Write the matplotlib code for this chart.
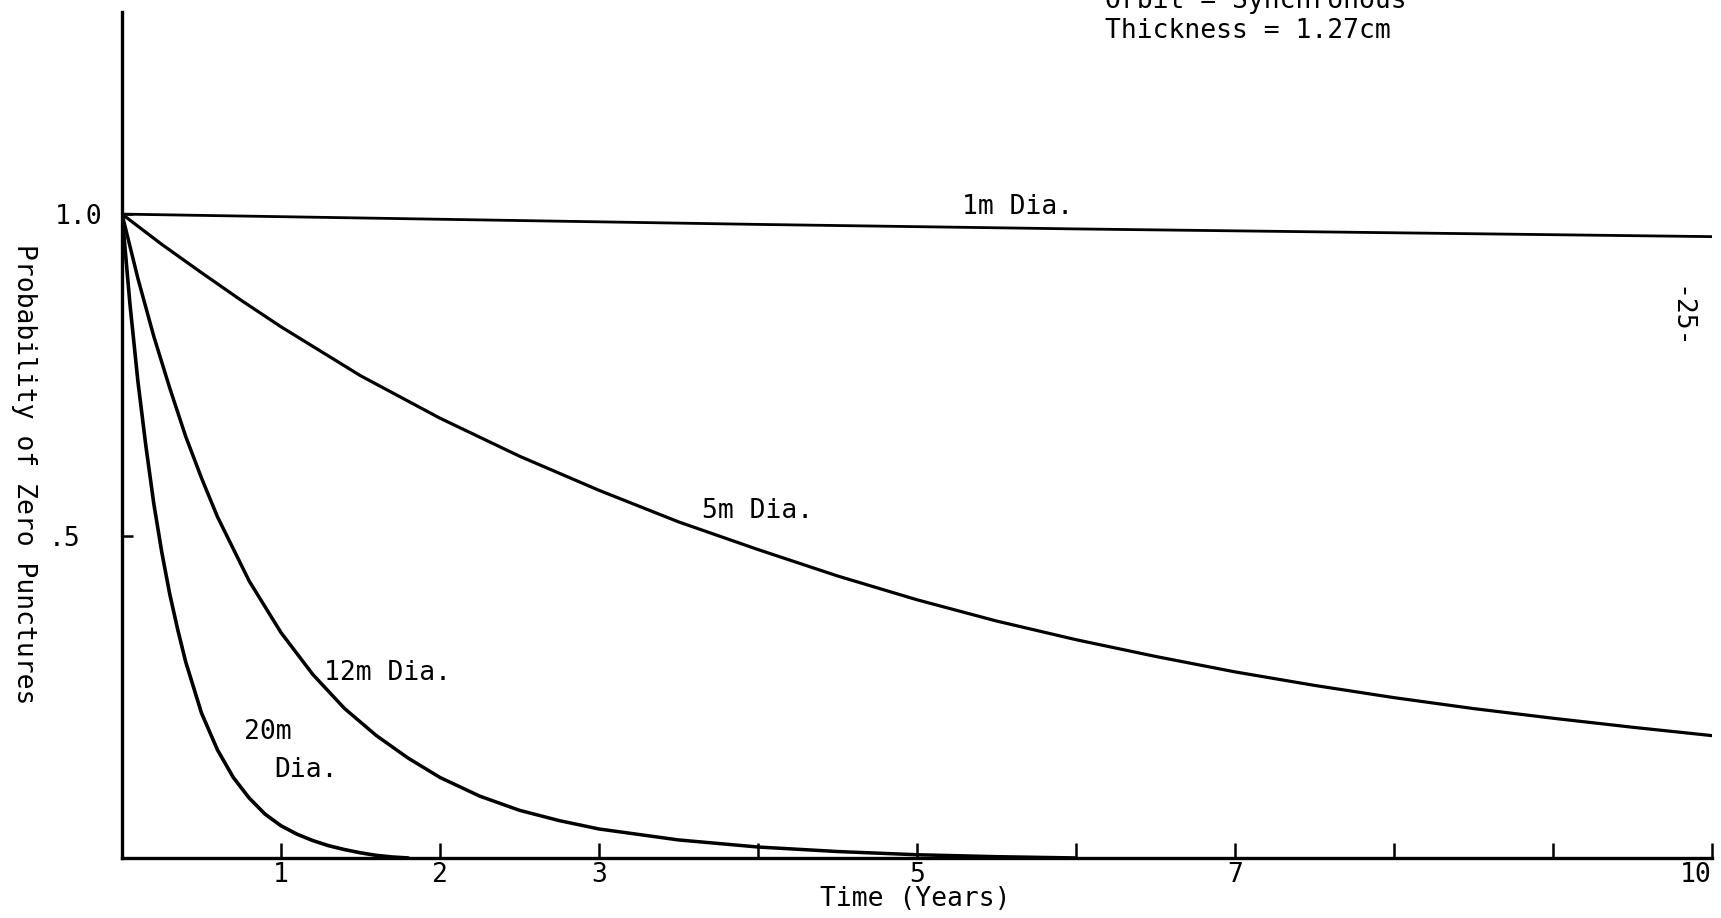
"""Probability of zero punctures vs. exposure time for several shield diameters."""

import matplotlib

matplotlib.use("Agg")
import matplotlib.pyplot as plt
from matplotlib.transforms import ScaledTranslation

# Exposure time (years) and probability of zero punctures, per diameter.
T_1M = [0, 2, 4, 6, 8, 10]
P_1M = [1.0, 0.992, 0.984, 0.977, 0.971, 0.965]

T_5M = [0, 0.25, 0.5, 0.75, 1, 1.5, 2, 2.5, 3, 3.5, 4, 4.5, 5, 5.5, 6,
        6.5, 7, 7.5, 8, 8.5, 9, 9.5, 10]
P_5M = [1.0, 0.953, 0.909, 0.866, 0.825, 0.749, 0.683, 0.624, 0.571, 0.522,
        0.479, 0.438, 0.401, 0.368, 0.339, 0.313, 0.289, 0.268, 0.249, 0.232,
        0.217, 0.203, 0.19]

T_12M = [0, 0.1, 0.2, 0.3, 0.4, 0.5, 0.6, 0.7, 0.8, 0.9, 1.0, 1.2, 1.4, 1.6,
         1.8, 2.0, 2.25, 2.5, 2.75, 3.0, 3.5, 4.0, 4.5, 5.0, 5.5, 6.0]
P_12M = [1.0, 0.90, 0.81, 0.73, 0.655, 0.59, 0.53, 0.48, 0.43, 0.39, 0.35,
         0.285, 0.232, 0.19, 0.155, 0.125, 0.096, 0.074, 0.058, 0.045, 0.028,
         0.017, 0.01, 0.005, 0.002, 0.0]

T_20M = [0, 0.05, 0.1, 0.15, 0.2, 0.25, 0.3, 0.35, 0.4, 0.5, 0.6, 0.7, 0.8,
         0.9, 1.0, 1.1, 1.2, 1.3, 1.4, 1.5, 1.6, 1.7, 1.8]
P_20M = [1.0, 0.86, 0.74, 0.64, 0.55, 0.475, 0.41, 0.355, 0.305, 0.225, 0.168,
         0.125, 0.093, 0.068, 0.05, 0.037, 0.027, 0.019, 0.013, 0.008, 0.004,
         0.0015, 0.0]

X_TICKS = [1, 2, 3, 4, 5, 6, 7, 8, 9, 10]
X_TICK_LABELS = ["1", "2", "3", "", "5", "", "7", "", "", "10"]
Y_TICKS = [0.5, 1.0]
Y_TICK_LABELS = [".5", "1.0"]

FONT = "DejaVu Sans Mono"
FS = 19


def main():
    plt.rcParams["font.family"] = FONT
    fig = plt.figure(figsize=(17.21, 9.18), dpi=100)
    ax = fig.add_axes([0.0709, 0.0654, 0.9239, 0.9216])

    for ts, ps, lw in ((T_1M, P_1M, 2.0), (T_5M, P_5M, 2.3),
                       (T_12M, P_12M, 2.5), (T_20M, P_20M, 2.6)):
        ax.plot(ts, ps, color="black", lw=lw, solid_capstyle="round",
                solid_joinstyle="round")

    ax.set_xlim(0, 10)
    ax.set_ylim(0, 1.314)
    for side in ("top", "right"):
        ax.spines[side].set_visible(False)
    for side in ("left", "bottom"):
        ax.spines[side].set_linewidth(2.4)

    ax.set_xticks(X_TICKS)
    ax.set_xticklabels(X_TICK_LABELS, fontsize=FS)
    ax.set_yticks(Y_TICKS)
    ax.set_yticklabels(Y_TICK_LABELS, fontsize=FS)
    ax.tick_params(axis="x", direction="in", length=11, width=1.8, pad=3)
    ax.tick_params(axis="y", direction="in", length=8, width=1.8, pad=14)
    # last x label sits against the right edge
    ax.get_xticklabels()[-1].set_ha("right")
    half = ax.get_yticklabels()[0]
    half.set_transform(half.get_transform()
                       + ScaledTranslation(-0.22, 0, fig.dpi_scale_trans))

    ax.text(5.28, 1.011, "1m Dia.", fontsize=FS, va="center", ha="left")
    ax.text(3.65, 0.539, "5m Dia.", fontsize=FS, va="center", ha="left")
    ax.text(1.27, 0.287, "12m Dia.", fontsize=FS, va="center", ha="left")
    ax.text(0.77, 0.196, "20m", fontsize=FS, va="center", ha="left")
    ax.text(0.96, 0.137, "Dia.", fontsize=FS, va="center", ha="left")

    fig.text(0.5317, 0.021, "Time (Years)", fontsize=FS, ha="center", va="center")
    fig.text(0.014, 0.483, "Probability of Zero Punctures", fontsize=FS,
             rotation=-90, ha="center", va="center")
    fig.text(0.9756, 0.654, "-25-", fontsize=FS, rotation=-90,
             ha="center", va="center")

    fig.text(0.642, 0.9913, "Orbit = Synchronous", fontsize=FS,
             ha="left", va="baseline")
    fig.text(0.642, 0.9586, "Thickness = 1.27cm", fontsize=FS,
             ha="left", va="baseline")

    fig.savefig("out.png", dpi=100, facecolor="white")


if __name__ == "__main__":
    main()
